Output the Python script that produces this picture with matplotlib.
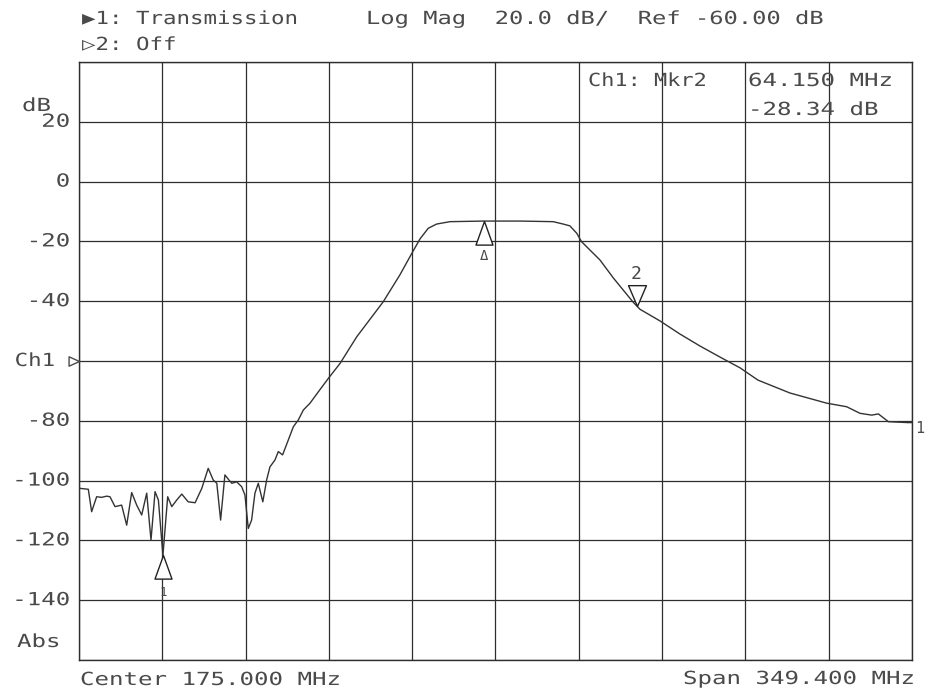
"""
Network analyzer plot: channel 1 transmission, log magnitude.
Band-pass response with delta marker readout, drawn in the plotter style.
"""

import numpy as np
import matplotlib
matplotlib.use("Agg")
import matplotlib.pyplot as plt
from matplotlib import patheffects
from matplotlib.path import Path
from matplotlib.markers import MarkerStyle
from matplotlib.transforms import Affine2D, blended_transform_factory

# sweep settings
center_mhz = 175.0
span_mhz = 349.4
ref_db = -60.0
scale_db = 20.0

# trace 1 (MHz, dB)
freq_mhz = [0.3, 0.7, 4.2, 5.6, 7.7, 9.8, 11.9, 13.3, 15.4, 18.2,
            20.3, 22.4, 24.5, 26.6, 28.7, 30.5, 32.2, 33.6, 35.5, 37.5,
            39.2, 41.3, 43.4, 46.1, 49.0, 51.8, 54.5, 56.6, 58.1, 59.7,
            61.5, 63.2, 64.4, 66.4, 68.5, 69.9, 71.3, 72.7, 74.1, 75.5,
            77.4, 79.0, 80.4, 82.5, 83.9, 85.7, 88.1, 90.2, 92.3, 94.4,
            97.2, 100.7, 104.9, 109.8, 116.8, 127.9, 134.9, 139.9, 143.3, 146.8,
            150.3, 155.9, 170.0, 185.3, 199.2, 203.4, 206.2, 209.1, 211.1, 218.8,
            224.4, 232.7, 235.6, 244.0, 252.4, 260.8, 269.2, 277.6, 285.1, 298.5,
            313.9, 322.3, 327.9, 332.8, 335.6, 339.8, 348.0, 349.7]
mag_db = [-102.3, -102.6, -102.9, -110.4, -105.4, -105.6, -105.2, -105.4, -108.7, -108.2,
          -114.9, -104.0, -108.2, -111.5, -104.2, -119.9, -103.7, -106.5, -125.0, -105.4,
          -108.7, -106.5, -104.5, -107.1, -107.4, -102.6, -95.9, -99.8, -100.9, -113.2,
          -98.1, -99.8, -100.9, -100.4, -102.0, -104.8, -116.0, -113.2, -104.2, -100.9,
          -107.1, -99.8, -95.4, -93.1, -90.3, -91.4, -86.4, -82.0, -79.7, -76.4,
          -74.1, -70.3, -65.8, -60.8, -51.9, -40.2, -31.2, -24.0, -19.2, -15.6,
          -14.2, -13.4, -13.2, -13.2, -13.4, -14.2, -14.8, -17.3, -20.1, -26.2,
          -32.2, -40.3, -42.7, -46.6, -51.0, -55.0, -58.7, -62.3, -66.4, -70.7,
          -74.1, -75.3, -77.5, -78.1, -77.7, -80.3, -80.6, -80.6]

# markers
mkr_ref = (170.0, -13.2)        # delta reference
mkr1 = (35.5, -125.0)
mkr2_delta = (64.150, -28.34)   # relative to the reference marker

ytick_vals = [20, 0, -20, -40, -80, -100, -120, -140]
ytick_text = ["20", "0", "-20", "-40", "-80", "-100", "-120", "-140"]

W, H = 929, 696
INK = "#4a4a4a"
MONO = ["DejaVu Sans Mono", "DejaVu Sans"]
FS = 13.0
PITCH = 14.5  # px per character, plotter font is wide


class Stretch(patheffects.AbstractPathEffect):
    """Widen glyphs horizontally about the left or right end of the string."""

    def __init__(self, sx, anchor="left"):
        super().__init__()
        self.sx = sx
        self.anchor = anchor

    def draw_path(self, renderer, gc, tpath, affine, rgbFace=None):
        x0 = tpath.get_extents().x1 if self.anchor == "right" else 0.0
        t = Affine2D().translate(-x0, 0).scale(self.sx, 1).translate(x0, 0)
        renderer.draw_path(gc, tpath, t + affine, rgbFace)


def stretch_for(size, pitch=PITCH, anchor="left"):
    return [Stretch(pitch / (0.602 * size * 100 / 72), anchor)]


def ptext(x, y, s, size=FS, pitch=PITCH):
    # left aligned text at pixel position
    fig.text(x / W, 1 - y / H, s, ha="left", va="center", fontsize=size,
             family=MONO, color=INK, path_effects=stretch_for(size, pitch))


fig = plt.figure(figsize=(W / 100, H / 100), dpi=100)
ax = fig.add_axes([79 / W, 1 - 660 / H, 833 / W, 598 / H])

start = center_mhz - span_mhz / 2
stop = center_mhz + span_mhz / 2
ax.set_xlim(start, stop)
ax.set_ylim(ref_db - 5 * scale_db, ref_db + 5 * scale_db)
ax.set_xticks(np.linspace(start, stop, 11))
ax.set_yticks(np.arange(ref_db - 5 * scale_db, ref_db + 5 * scale_db + 1, scale_db))
ax.tick_params(length=0, labelbottom=False, labelleft=False)
ax.grid(True, color="#2e2e2e", lw=0.9)
for sp in ax.spines.values():
    sp.set_color("#2e2e2e")
    sp.set_linewidth(1.0)

ax.plot(freq_mhz, mag_db, color="#333333", lw=1.0, zorder=3)

# y labels, right aligned just left of the frame
ylab = blended_transform_factory(ax.transAxes, ax.transData)
for v, s in zip(ytick_vals, ytick_text):
    ax.text(-0.011, v, s, transform=ylab, ha="right", va="center", fontsize=FS,
            family=MONO, color=INK, path_effects=stretch_for(FS, PITCH, "right"))
ax.text(-0.029, ref_db, "Ch1", transform=ylab, ha="right", va="center", fontsize=FS,
        family=MONO, color=INK, path_effects=stretch_for(FS, 13.5, "right"))

# reference position pointer on the left edge
ptr = MarkerStyle(Path([(0, 0), (-1, 0.45), (-1, -0.45), (0, 0)],
                       [Path.MOVETO, Path.LINETO, Path.LINETO, Path.CLOSEPOLY]))
ax.plot([0], [ref_db], transform=ylab, marker=ptr, ms=15, mfc="none", mec=INK,
        mew=1.0, clip_on=False, zorder=5)

# marker triangles
up_tri = MarkerStyle(Path([(0, 0), (-0.36, -1), (0.36, -1), (0, 0)],
                          [Path.MOVETO, Path.LINETO, Path.LINETO, Path.CLOSEPOLY]))
down_tri = MarkerStyle(Path([(0, 0), (-0.43, 1), (0.43, 1), (0, 0)],
                            [Path.MOVETO, Path.LINETO, Path.LINETO, Path.CLOSEPOLY]))

mkr2 = (mkr_ref[0] + mkr2_delta[0], mkr_ref[1] + mkr2_delta[1])

ax.plot(*mkr_ref, marker=up_tri, ms=34, mfc="white", mec="#222222", mew=1.0, zorder=4)
ax.plot(*mkr1, marker=up_tri, ms=34, mfc="white", mec="#222222", mew=1.0, zorder=4)
ax.plot(*mkr2, marker=down_tri, ms=30, mfc="white", mec="#222222", mew=1.0, zorder=4)

ax.annotate("Δ", mkr_ref, xytext=(0, -25), textcoords="offset points", ha="center",
            va="center", fontsize=10, family=MONO, color=INK)
ax.annotate("1", mkr1, xytext=(0, -27), textcoords="offset points", ha="center",
            va="center", fontsize=9, family=MONO, color=INK)
ax.annotate("2", mkr2, xytext=(0, 23), textcoords="offset points", ha="center",
            va="center", fontsize=13, family=MONO, color=INK)

# trace end label
ax.annotate("1", (stop, mag_db[-1]), xytext=(2, -4), textcoords="offset points",
            ha="left", va="center", fontsize=11, family=MONO, color=INK,
            annotation_clip=False)

# header
ptext(82, 19, "▶1: Transmission", pitch=13.5)
ptext(366, 19, "Log Mag  20.0 dB/  Ref -60.00 dB", pitch=14.3)
ptext(82, 45, "▷2: Off", pitch=13.5)
ptext(22, 106, "dB")
ptext(17, 642, "Abs")

# marker readout
ptext(588, 81, "Ch1: Mkr2", pitch=13.2)
ptext(748, 81, f"{mkr2_delta[0]:.3f} MHz")
ptext(748, 110, f"{mkr2_delta[1]:.2f} dB")

# footer
ptext(80, 680, f"Center {center_mhz:.3f} MHz")
ptext(683, 679, f"Span {span_mhz:.3f} MHz")

fig.savefig("out.png", dpi=100)
